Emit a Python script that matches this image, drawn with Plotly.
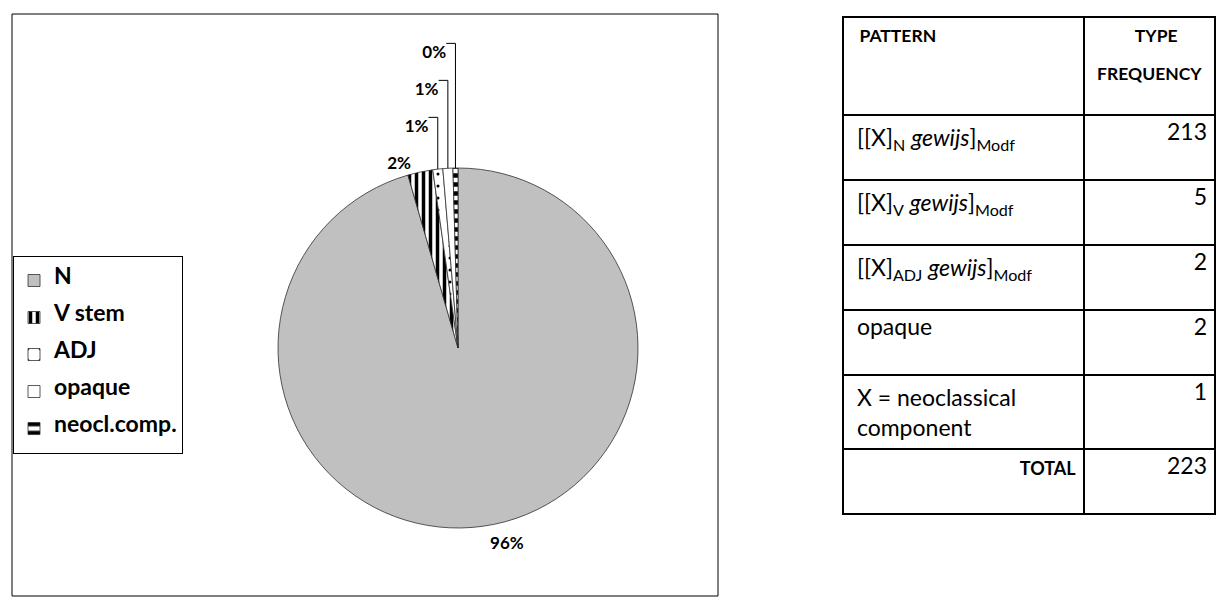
import plotly.graph_objects as go
import plotly.io as pio

# Data
categories = ["N", "V stem", "ADJ", "opaque", "neocl.comp."]
counts = [213, 5, 2, 2, 1]

table_patterns = [
    "[[X]<sub>N</sub> <i>gewijs</i>]<sub>Modf</sub>",
    "[[X]<sub>V</sub> <i>gewijs</i>]<sub>Modf</sub>",
    "[[X]<sub>ADJ</sub> <i>gewijs</i>]<sub>Modf</sub>",
    "opaque",
    "X = neoclassical<br>component",
    "<b>TOTAL</b>",
]
table_freq = ["213", "5", "2", "2", "1", "223"]
header_labels = ["PATTERN", "TYPE", "FREQUENCY"]

FONT = "Lato, 'Open Sans', sans-serif"
W, H = 1216, 608
NB = "\u00a0"

# legend entries: the visible text sits on the middle of three lines (sets item spacing)
legend_labels = [f"<br><span style='font-size:23px'><b>{c}</b></span><br> " for c in categories]

# outside labels: a blank (non-collapsing) line above the visible percentage
pct_tpl = NB + "<br><span style='font-size:17px'><b>%{percent:.0%}</b></span>"

fig = go.Figure()

fig.add_trace(go.Pie(
    labels=legend_labels,
    values=counts,
    sort=False,
    direction="clockwise",
    rotation=0,
    textposition="outside",
    texttemplate=pct_tpl,
    textfont=dict(family=FONT, size=[10, 14.6, 14.6, 14.6, 14.6], color="black"),
    marker=dict(
        colors=["#C0C0C0", "white", "white", "white", "white"],
        line=dict(color="#303030", width=0.8),
        pattern=dict(
            shape=["", "|", ".", "", "-"],
            fgcolor="black",
            bgcolor=["#C0C0C0", "white", "white", "white", "white"],
            size=[8, 7, 12, 8, 9],
            solidity=[0.3, 0.5, 0.05, 0.3, 0.5],
        ),
    ),
    domain=dict(x=[278 / W, 638 / W], y=[80 / H, 440 / H]),
    showlegend=True,
    hoverinfo="value+percent",
))

n_rows = len(table_freq)
pad = NB
body_left = [pad + t.replace("<br>", "<br>" + pad) if i < n_rows - 1 else t
             for i, t in enumerate(table_patterns)]

fig.add_trace(go.Table(
    domain=dict(x=[843 / W, 1.0], y=[(H - 540) / H, (H - 17) / H]),
    columnwidth=[242, 131],
    header=dict(
        values=[
            f"<span style='font-size:17.5px'><b>{NB * 2}{header_labels[0]}</b></span><br> ",
            f"<span style='font-size:17.5px'><b>{NB * 9}{header_labels[1]}</b></span><br>"
            f"<span style='font-size:17.5px'><b>{header_labels[2]}</b></span>",
        ],
        align=["left", "center"],
        height=98,
        font=dict(family=FONT, size=29, color="black"),
        fill_color="white",
        line=dict(color="black", width=2),
    ),
    cells=dict(
        values=[body_left, table_freq],
        align=["left", "right"],
        height=65,
        font=dict(family=FONT, size=23, color="black"),
        fill_color="white",
        line=dict(color="black", width=2),
    ),
))

fig.add_shape(type="rect", xref="paper", yref="paper",
              x0=12 / W, x1=718 / W, y0=(H - 596) / H, y1=(H - 14) / H,
              line=dict(color="black", width=1), fillcolor="rgba(0,0,0,0)")

fig.update_layout(
    width=W, height=H,
    margin=dict(l=0, r=0, t=0, b=0),
    paper_bgcolor="white",
    plot_bgcolor="white",
    font=dict(family=FONT),
    legend=dict(
        x=13 / W, y=(H - 256) / H, xanchor="left", yanchor="top",
        bordercolor="black", borderwidth=1, bgcolor="white",
        font=dict(family=FONT, size=8.72, color="black"),
        traceorder="normal",
        valign="middle",
    ),
)

spec = fig.to_dict()
# per-cell alignment and size: TOTAL is smaller and right-aligned in the first column
spec["data"][1]["cells"]["align"] = [["left"] * (n_rows - 1) + ["right"], ["right"] * n_rows]
spec["data"][1]["cells"]["font"]["size"] = [[23] * (n_rows - 1) + [18], [23] * n_rows]

pio.write_html(spec, "out.html", validate=False,
               config={"displayModeBar": False},
               post_script="document.body.style.margin='0px';")
